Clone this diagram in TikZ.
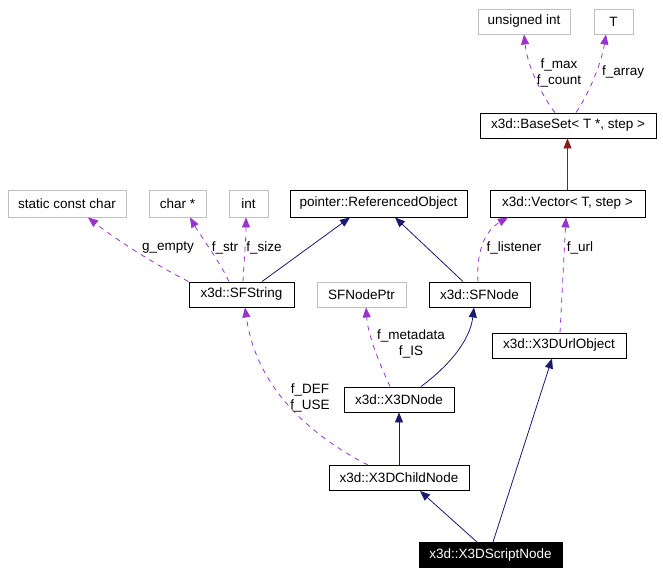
\documentclass[tikz,border=0pt]{standalone}
\usepackage{fontspec}
\setmainfont{Liberation Sans}
\usetikzlibrary{arrows.meta}
\definecolor{edgenavy}{HTML}{191970}
\definecolor{edgepurple}{HTML}{9A32CD}
\definecolor{edgered}{HTML}{8B1A1A}
\definecolor{boxgray}{HTML}{BFBFBF}
\begin{document}
\begin{tikzpicture}[x=1pt,y=-1pt,
  font=\fontsize{13.5}{15.5}\selectfont,
  cls/.style={draw=black,line width=0.9pt,minimum height=25pt,inner sep=0pt,anchor=center},
  ext/.style={draw=boxgray,line width=0.9pt,minimum height=25pt,inner sep=0pt,anchor=center},
  lbl/.style={inner sep=0pt,align=center,font=\fontsize{13.5}{15.5}\selectfont},
  tip/.style={-{Triangle[length=10pt,width=8pt]}},
  inh/.style={tip,draw=edgenavy,line width=0.8pt},
  usage/.style={tip,draw=edgepurple,line width=0.8pt,dash pattern=on 5pt off 5pt},
  tmpl/.style={tip,draw=edgered,line width=0.8pt}]
\useasboundingbox (0,0) rectangle (663,575);

% nodes
\node[ext,minimum width=92pt] (uint) at (524,21.5) {unsigned int};
\node[ext,minimum width=39pt] (T) at (613.5,21.5) {T};
\node[cls,minimum width=176pt] (BaseSet) at (568,125.5) {x3d::BaseSet< T *, step >};
\node[ext,minimum width=118pt,minimum height=27pt] (scc) at (67,203.5) {static const char};
\node[ext,minimum width=57pt,minimum height=27pt] (charp) at (177.5,203.5) {char *};
\node[ext,minimum width=39pt,minimum height=27pt] (int) at (248.5,203.5) {int};
\node[cls,minimum width=177pt,minimum height=27pt] (RefObj) at (378.5,203.5) {pointer::ReferencedObject};
\node[cls,minimum width=155pt,minimum height=27pt] (Vector) at (567.5,203.5) {x3d::Vector< T, step >};
\node[cls,minimum width=105pt] (SFString) at (241.5,294.5) {x3d::SFString};
\node[ext,minimum width=89pt] (SFNodePtr) at (361.5,294.5) {SFNodePtr};
\node[cls,minimum width=101pt] (SFNode) at (479.5,294.5) {x3d::SFNode};
\node[cls,minimum width=134pt] (Url) at (559,345.5) {x3d::X3DUrlObject};
\node[cls,minimum width=110pt] (X3DNode) at (399,399.5) {x3d::X3DNode};
\node[cls,minimum width=140pt] (Child) at (399,478) {x3d::X3DChildNode};
\node[cls,fill=black,text=white,minimum width=143pt] (Script) at (490.5,555) {x3d::X3DScriptNode};

% edges
\draw[usage] ([xshift=-13pt]BaseSet.north) .. controls (545,100) and (528,70) .. (uint.south);
\draw[usage] ([xshift=8pt]BaseSet.north) .. controls (588,95) and (601,65) .. ([xshift=-7.5pt]T.south);
\draw[tmpl] (Vector.north) -- (Vector.north |- BaseSet.south);

\draw[usage] (SFString.north west) .. controls (150,262) and (110,235) .. ([xshift=21pt]scc.south);
\draw[usage] ([xshift=-12.5pt]SFString.north) .. controls (220,262) and (200,235) .. ([xshift=12.5pt]charp.south);
\draw[usage] ([xshift=1.5pt]SFString.north) .. controls (244,260) and (246,240) .. ([xshift=-2.5pt]int.south);
\draw[inh] ([xshift=20.5pt]SFString.north) -- ([xshift=-28.5pt]RefObj.south);
\draw[inh] ([xshift=-16.5pt]SFNode.north) -- ([xshift=16.5pt]RefObj.south);
\draw[usage] ([xshift=-1.5pt]SFNode.north) .. controls (476,250) and (486,230) .. ([xshift=-59.5pt]Vector.south);
\draw[usage] ([xshift=1pt]Url.north) -- ([xshift=-1.5pt]Vector.south);

\draw[usage] ([xshift=-9pt]X3DNode.north) .. controls (378,360) and (368,335) .. ([xshift=4.5pt]SFNodePtr.south);
\draw[inh] ([xshift=22pt]X3DNode.north) .. controls (450,365) and (470,340) .. ([xshift=-5.5pt]SFNode.south);
\draw[usage] ([xshift=-31pt]Child.north) .. controls (300,430) and (255,380) .. ([xshift=3.5pt]SFString.south);
\draw[inh] (Child.north) -- (X3DNode.south);
\draw[inh] ([xshift=-13.5pt]Script.north) -- ([xshift=21pt]Child.south);
\draw[inh] ([xshift=2.5pt]Script.north) -- ([xshift=-7pt]Url.south);

% labels
\node[lbl] (lmax) at (559,73) {f\_max\\f\_count};
\node[lbl] (larr) at (623,72) {f\_array};
\node[lbl] (lempty) at (168,248) {g\_empty};
\node[lbl] (lstr) at (225,248) {f\_str};
\node[lbl] (lsize) at (264,248) {f\_size};
\node[lbl] (llist) at (514,248) {f\_listener};
\node[lbl] (lurl) at (580,248) {f\_url};
\node[lbl] (lmeta) at (411,344) {f\_metadata\\f\_IS};
\node[lbl] (ldef) at (310,398) {f\_DEF\\f\_USE};
\end{tikzpicture}
\end{document}
